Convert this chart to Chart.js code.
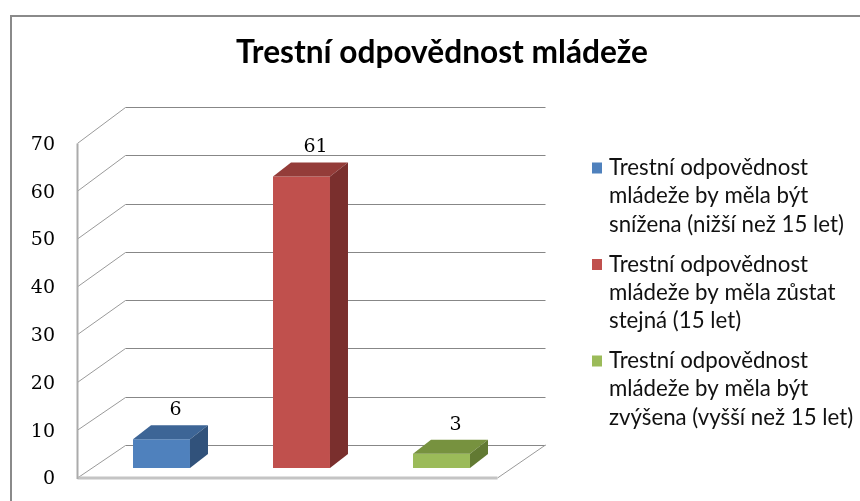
<!DOCTYPE html>
<html><head><meta charset="utf-8">
<script src="https://cdn.jsdelivr.net/npm/chart.js@4.4.0/dist/chart.umd.min.js"></script>
<style>html,body{margin:0;padding:0;background:#fff;overflow:hidden}</style>
</head><body>
<canvas id="c" width="860" height="501"></canvas>
<script>
// ---- data ----
const chartTitle = "Trestní odpovědnost mládeže";
const categories = [""];
const seriesLabels = [
  "Trestní odpovědnost mládeže by měla být snížena (nižší než 15 let)",
  "Trestní odpovědnost mládeže by měla zůstat stejná (15 let)",
  "Trestní odpovědnost mládeže by měla být zvýšena (vyšší než 15 let)"
];
const legendLines = [
  ["Trestní odpovědnost", "mládeže by měla být", "snížena (nižší než 15 let)"],
  ["Trestní odpovědnost", "mládeže by měla zůstat", "stejná (15 let)"],
  ["Trestní odpovědnost", "mládeže by měla být", "zvýšena (vyšší než 15 let)"]
];
const valuesSnizena = [6];
const valuesStejna = [61];
const valuesZvysena = [3];
const yMin = 0, yMax = 70, yStep = 10;

// ---- styles ----
const frontColors = ["#4F81BD", "#C0504D", "#9BBB59"];
const topColors = ["#3D6596", "#943C39", "#77923F"];
const sideColors = ["#31527B", "#7A2F2D", "#627A33"];

const FRONT = {dx: -14, dy: 10};
const BACK = {dx: 34, dy: -23};
const DEPTH = {dx: 18, dy: -14};

const threeD = {
  id: 'threeD',
  beforeDatasetsDraw(chart) {
    const ctx = chart.ctx, a = chart.chartArea, ys = chart.scales.y;
    const base = ys.getPixelForValue(0);
    const backY = v => base + BACK.dy - (base - ys.getPixelForValue(v)) * 1.01;
    const frontY = v => ys.getPixelForValue(v) + FRONT.dy;
    ctx.save();
    // outer border
    ctx.strokeStyle = '#8a8a8a'; ctx.lineWidth = 2;
    ctx.strokeRect(11, 16, 1000, 700);
    // back wall gridlines
    ctx.lineWidth = 1;
    for (let v = yMin; v <= yMax; v += yStep) {
      const yb = Math.round(backY(v)) + 0.5;
      ctx.strokeStyle = '#878787';
      ctx.beginPath();
      ctx.moveTo(a.left + BACK.dx, yb);
      ctx.lineTo(a.right + BACK.dx, yb);
      ctx.stroke();
      // side wall diagonals
      ctx.strokeStyle = '#9a9a9a';
      ctx.beginPath();
      ctx.moveTo(a.left + FRONT.dx, frontY(v));
      ctx.lineTo(a.left + BACK.dx, yb);
      ctx.stroke();
    }
    // floor right diagonal
    ctx.strokeStyle = '#9a9a9a';
    ctx.beginPath();
    ctx.moveTo(a.right + FRONT.dx, frontY(0));
    ctx.lineTo(a.right + BACK.dx, backY(0));
    ctx.stroke();
    // floor front edge
    ctx.strokeStyle = '#c4c4c4'; ctx.lineWidth = 3;
    ctx.beginPath();
    ctx.moveTo(a.left + FRONT.dx, frontY(0));
    ctx.lineTo(a.right + FRONT.dx, frontY(0));
    ctx.stroke();
    // left wall front edge
    ctx.strokeStyle = '#ababab'; ctx.lineWidth = 2;
    ctx.beginPath();
    ctx.moveTo(a.left + FRONT.dx, frontY(yMax));
    ctx.lineTo(a.left + FRONT.dx, frontY(0) + 1);
    ctx.stroke();
    ctx.restore();
  },
  afterDatasetsDraw(chart) {
    const ctx = chart.ctx;
    ctx.save();
    chart.data.datasets.forEach((ds, i) => {
      const meta = chart.getDatasetMeta(i);
      meta.data.forEach((el, j) => {
        const L = el.x - el.width / 2, R = el.x + el.width / 2, T = el.y, B = el.base;
        ctx.fillStyle = topColors[i];
        ctx.beginPath();
        ctx.moveTo(L, T); ctx.lineTo(R, T);
        ctx.lineTo(R + DEPTH.dx, T + DEPTH.dy); ctx.lineTo(L + DEPTH.dx, T + DEPTH.dy);
        ctx.closePath(); ctx.fill();
        ctx.fillStyle = sideColors[i];
        ctx.beginPath();
        ctx.moveTo(R, T); ctx.lineTo(R + DEPTH.dx, T + DEPTH.dy);
        ctx.lineTo(R + DEPTH.dx, B + DEPTH.dy); ctx.lineTo(R, B);
        ctx.closePath(); ctx.fill();
        // value label
        ctx.fillStyle = '#000';
        ctx.font = '19px "DejaVu Serif"';
        ctx.textAlign = 'center'; ctx.textBaseline = 'middle';
        ctx.fillText(String(ds.data[j]), el.x + 14, T - 29);
      });
    });
    ctx.restore();
  },
  afterDraw(chart) {
    const ctx = chart.ctx;
    ctx.save();
    // title
    ctx.fillStyle = '#000';
    ctx.textAlign = 'center'; ctx.textBaseline = 'alphabetic';
    let fs = 28;
    ctx.font = 'bold ' + fs + 'px Lato';
    const w = ctx.measureText(chartTitle).width;
    fs = fs * 412 / w;
    ctx.font = 'bold ' + fs.toFixed(2) + 'px Lato';
    ctx.fillText(chartTitle, 442, 63);
    // legend
    let ls = 19;
    ctx.font = ls + 'px Lato';
    const lw = ctx.measureText(legendLines[0][0]).width;
    ls = ls * 199 / lw;
    ctx.font = ls.toFixed(2) + 'px Lato';
    ctx.textAlign = 'left'; ctx.textBaseline = 'middle';
    chart.data.datasets.forEach((ds, i) => {
      const y0 = 168 + i * 96.5;
      ctx.fillStyle = frontColors[i];
      ctx.fillRect(592, y0 - 5.5, 10, 11);
      ctx.fillStyle = '#111';
      legendLines[i].forEach((line, k) => {
        ctx.fillText(line, 609, y0 + k * 28.3);
      });
    });
    ctx.restore();
  }
};

new Chart(document.getElementById('c').getContext('2d'), {
  type: 'bar',
  data: {
    labels: categories,
    datasets: [
      {label: seriesLabels[0], data: valuesSnizena, backgroundColor: frontColors[0]},
      {label: seriesLabels[1], data: valuesStejna, backgroundColor: frontColors[1]},
      {label: seriesLabels[2], data: valuesZvysena, backgroundColor: frontColors[2]}
    ]
  },
  options: {
    responsive: false,
    animation: false,
    devicePixelRatio: 1,
    layout: {padding: {left: 0, top: 133.4, right: 348.5, bottom: 33}},
    datasets: {bar: {categoryPercentage: 1, barPercentage: 0.407}},
    plugins: {legend: {display: false}, title: {display: false}, tooltip: {enabled: false}},
    scales: {
      x: {display: false, offset: true},
      y: {
        min: yMin, max: yMax,
        ticks: {stepSize: yStep, padding: 36.5, labelOffset: 11.5, color: '#000',
                font: {family: 'DejaVu Serif', size: 19}},
        grid: {display: false, drawTicks: false},
        border: {display: false},
        afterFit(s) { s.width = 91.5; s.paddingTop = 0; s.paddingBottom = 0; }
      }
    }
  },
  plugins: [threeD]
});
</script>
</body></html>
